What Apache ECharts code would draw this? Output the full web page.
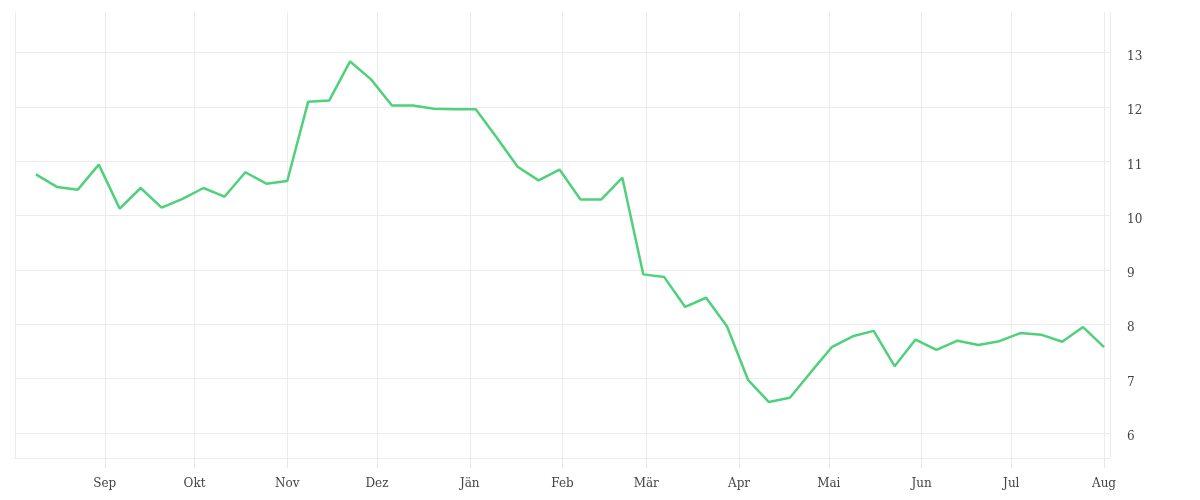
<!DOCTYPE html>
<html>
<head>
<meta charset="utf-8">
<script src="https://cdn.jsdelivr.net/npm/echarts@6/dist/echarts.min.js"></script>
<style>html,body{margin:0;padding:0;background:#fff;}#chart{width:1200px;height:500px;}</style>
</head>
<body>
<div id="chart"></div>
<script>
const monthLabels = ['Jän','Feb','Mär','Apr','Mai','Jun','Jul','Aug','Sep','Okt','Nov','Dez'];
const startDate = '2022-08-09';
const weekValues = [
  10.76, 10.53, 10.48, 10.94, 10.13, 10.51, 10.15, 10.31, 10.51, 10.35,
  10.80, 10.59, 10.64, 12.10, 12.12, 12.84, 12.51, 12.03, 12.03, 11.97,
  11.96, 11.96, 11.44, 10.90, 10.65, 10.85, 10.30, 10.30, 10.70, 8.92,
  8.87, 8.32, 8.49, 7.96, 6.98, 6.57, 6.65, 7.12, 7.58, 7.78,
  7.88, 7.23, 7.72, 7.53, 7.70, 7.62, 7.69, 7.84, 7.81, 7.68,
  7.95, 7.58
];
const xMin = '2022-08-02';
const xMax = '2023-08-03';
const yMin = 5.54;
const yMax = 13.75;

function addDays(s, n) {
  const p = s.split('-').map(Number);
  return new Date(p[0], p[1] - 1, p[2] + n);
}
const seriesData = weekValues.map((v, i) => [addDays(startDate, i * 7), v]);

const gridColor = '#ececec';
const labelFont = { fontFamily: 'DejaVu Serif', fontSize: 12, color: '#444' };

const chart = echarts.init(document.getElementById('chart'));
chart.setOption({
  animation: false,
  grid: { left: 15, right: 90, top: 12, bottom: 42, containLabel: false },
  xAxis: {
    type: 'time',
    min: addDays(xMin, 0).getTime(),
    max: addDays(xMax, 0).getTime(),
    minInterval: 28 * 86400000,
    maxInterval: 31 * 86400000,
    axisLine: { show: true, lineStyle: { color: gridColor, width: 1 } },
    axisTick: { show: true, inside: false, length: 10, lineStyle: { color: '#e6e6e6', width: 1 } },
    splitLine: { show: true, lineStyle: { color: gridColor, width: 1 } },
    axisLabel: Object.assign({
      margin: 20,
      formatter: function (val) { return monthLabels[new Date(val).getMonth()]; }
    }, labelFont)
  },
  yAxis: {
    type: 'value',
    position: 'right',
    min: yMin,
    max: yMax,
    splitNumber: 8,
    axisLine: { show: true, lineStyle: { color: gridColor } },
    axisTick: { show: false },
    splitLine: { show: true, showMinLine: true, showMaxLine: false, lineStyle: { color: gridColor, width: 1 } },
    axisLabel: Object.assign({ margin: 17, showMinLabel: false, showMaxLabel: false, verticalAlign: 'top', lineHeight: 8 }, labelFont)
  },
  series: [{
    type: 'line',
    data: seriesData,
    showSymbol: false,
    lineStyle: { color: '#4fd17b', width: 2.5 },
    itemStyle: { color: '#4fd17b' }
  }]
});
</script>
</body>
</html>
